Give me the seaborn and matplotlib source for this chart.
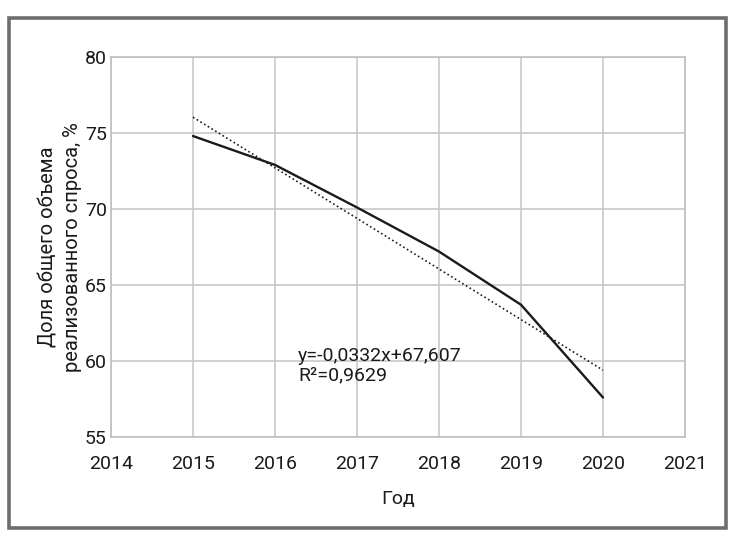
import matplotlib
matplotlib.use('Agg')
import matplotlib.pyplot as plt
import seaborn as sns
import pandas as pd
from matplotlib.patches import Rectangle

# Datos
anios = [2015, 2016, 2017, 2018, 2019, 2020]
dola_spros = [74.8, 72.9, 70.1, 67.2, 63.7, 57.6]
x_ticks = [2014, 2015, 2016, 2017, 2018, 2019, 2020, 2021]
y_ticks = [55, 60, 65, 70, 75, 80]
ecuacion = 'y=-0,0332x+67,607\nR²=0,9629'

df = pd.DataFrame({'Год': anios, 'Доля': dola_spros})

sns.set_style('white')
plt.rcParams['font.family'] = ['Roboto', 'DejaVu Sans']

fig = plt.figure(figsize=(7.35, 5.37), dpi=100)
ax = fig.add_axes([0.151, 0.1862, 0.781, 0.7077])

# linea principal
sns.lineplot(data=df, x='Год', y='Доля', color='#1a1a1a', linewidth=1.7, ax=ax)
# linea de tendencia
sns.regplot(data=df, x='Год', y='Доля', scatter=False, ci=None, ax=ax,
            line_kws={'color': '#1a1a1a', 'linestyle': (0, (1, 1.6)), 'linewidth': 1.2})

ax.set_xlim(2014, 2021)
ax.set_ylim(55, 80)
ax.set_xticks(x_ticks)
ax.set_yticks(y_ticks)
ax.grid(True, color='#c8c8c8', linewidth=1.2)
for s in ax.spines.values():
    s.set_color('#c0c0c0')
    s.set_linewidth(1.2)
ax.tick_params(length=0, labelsize=14, colors='#1a1a1a')
ax.tick_params(axis='x', pad=13)
ax.tick_params(axis='y', pad=3)

ax.set_xlabel('Год', fontsize=14, color='#1a1a1a', labelpad=12)
ax.set_ylabel('Доля общего объема\nреализованного спроса, %', fontsize=14.5,
              color='#1a1a1a', labelpad=2, linespacing=1.4)

ax.text(2016.28, 59.7, ecuacion, fontsize=14, color='#1a1a1a', va='center', linespacing=1.1)

# marco exterior
fig.patches.append(Rectangle((0.0128, 0.017), 0.975, 0.949, transform=fig.transFigure,
                             fill=False, edgecolor='#6e6e6e', linewidth=2.6))

plt.savefig('out.png', dpi=100)
